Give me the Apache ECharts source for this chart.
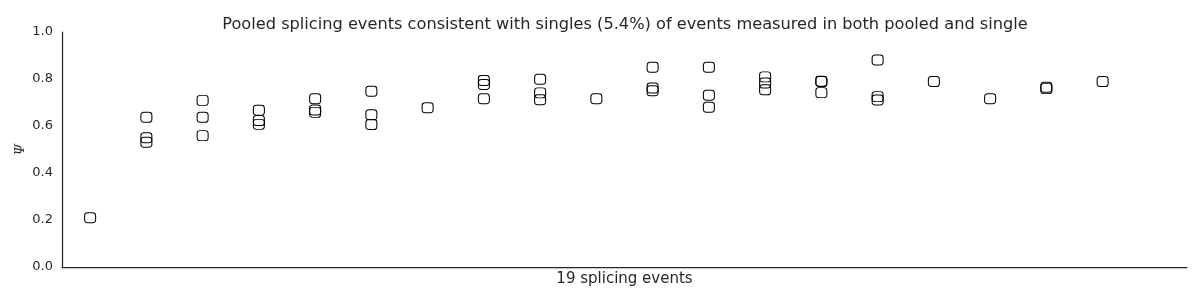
<!DOCTYPE html>
<html>
<head>
<meta charset="utf-8">
<script src="https://cdn.jsdelivr.net/npm/echarts@6/dist/echarts.min.js"></script>
<style>html,body{margin:0;padding:0;background:#fff}#c{width:1200px;height:300px}</style>
</head>
<body>
<div id="c"></div>
<script>
const titleText = 'Pooled splicing events consistent with singles (5.4%) of events measured in both pooled and single';
const xAxisName = '19 splicing events';
const yAxisName = 'Ψ';
const yTicks = [0.0, 0.2, 0.4, 0.6, 0.8, 1.0];
// event index (0..18) and psi value for each measurement
const eventIdx = [0, 1,1,1, 2,2,2, 3,3,3, 4,4,4, 5,5,5, 6, 7,7,7, 8,8,8, 9, 10,10,10, 11,11,11, 12,12,12, 13,13,13, 14,14,14, 15, 16, 17,17, 18];
const psi = [0.21, 0.637,0.550,0.531, 0.709,0.637,0.559, 0.667,0.623,0.607, 0.716,0.668,0.658, 0.748,0.648,0.606, 0.678, 0.794,0.777,0.716, 0.799,0.741,0.712, 0.716, 0.850,0.762,0.750, 0.850,0.731,0.680, 0.809,0.783,0.754, 0.791,0.789,0.742, 0.881,0.725,0.711, 0.789, 0.716, 0.765,0.759, 0.789];

const points = eventIdx.map((e, i) => [e, psi[i]]);
const chart = echarts.init(document.getElementById('c'), null, {renderer: 'canvas'});
const dark = '#262626';
chart.setOption({
  animation: false,
  title: {
    text: titleText, left: 620, top: 12, textAlign: 'center',
    textStyle: {fontFamily: 'DejaVu Sans', fontSize: 16.2, fontWeight: 'normal', color: dark}
  },
  grid: {left: 62, right: 13, top: 32, bottom: 33, containLabel: false},
  xAxis: {
    type: 'value', min: -0.5, max: 19.5,
    name: xAxisName, nameLocation: 'middle', nameGap: 5,
    nameTextStyle: {fontFamily: 'DejaVu Sans', fontSize: 15, color: dark, verticalAlign: 'top'},
    axisLine: {show: true, onZero: false, lineStyle: {color: dark, width: 1.25}},
    axisTick: {show: false}, axisLabel: {show: false}, splitLine: {show: false}
  },
  yAxis: {
    type: 'value', min: 0, max: 1, interval: 0.2,
    name: yAxisName, nameLocation: 'middle', nameGap: 35, nameMoveOverlap: false,
    nameTextStyle: {fontFamily: 'DejaVu Serif', fontStyle: 'italic', fontSize: 13, color: dark},
    axisLine: {show: true, onZero: false, lineStyle: {color: dark, width: 1.25}},
    axisTick: {show: false},
    axisLabel: {fontFamily: 'DejaVu Sans', fontSize: 13, color: dark, margin: 9,
      formatter: v => v.toFixed(1)},
    splitLine: {show: false}
  },
  series: [{
    type: 'scatter',
    data: points,
    symbol: 'path://M3,0 L8,0 Q11,0 11,3 L11,7 Q11,10 8,10 L3,10 Q0,10 0,7 L0,3 Q0,0 3,0 Z',
    symbolSize: [11, 10],
    itemStyle: {color: 'rgba(255,255,255,0)', borderColor: '#000', borderWidth: 1, opacity: 1}
  }]
});
</script>
</body>
</html>
